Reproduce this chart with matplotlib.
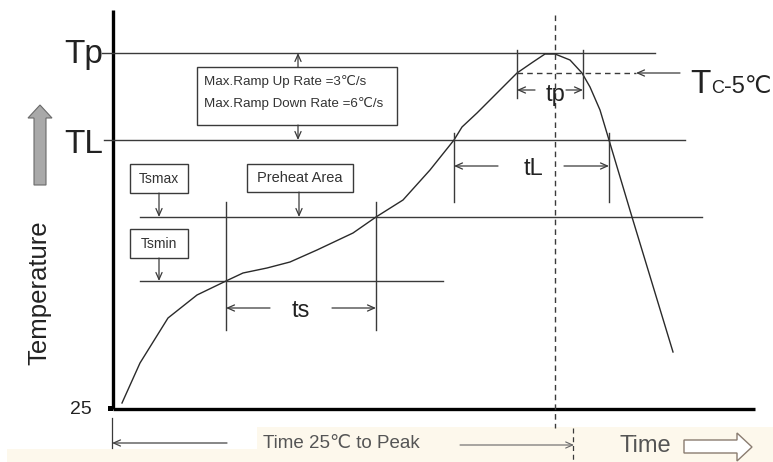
import matplotlib
matplotlib.use("Agg")
import matplotlib.pyplot as plt
from matplotlib.patches import Polygon, Rectangle

# ---------------- data (pixel-like units) ----------------
curve_time = [122, 140, 168, 197, 226, 243, 267, 290, 317, 353, 376, 403, 430, 454,
              462, 477, 497, 517, 533, 545, 555, 570, 582, 590, 600, 609, 632, 673]
curve_temp = [403, 363, 318, 295, 281, 273, 268, 262, 250, 233, 217, 200, 170, 140,
              127, 113, 93, 73, 62, 54, 54, 60, 73, 87, 110, 140, 217, 352]

level_names = ["Tp", "TL", "Tsmax", "Tsmin"]
level_values = [53, 140, 217, 281]
level_starts = [102, 104, 140, 140]
level_ends = [655, 685, 702, 443]

tc5_value = 73          # Tc - 5 level
peak_time = 555         # time of peak
ts_bounds = [226, 376]  # ts interval
tl_bounds = [454, 609]  # tL interval
tp_bounds = [517, 583]  # tp interval

ramp_text = ["Max.Ramp Up Rate =3\u2103/s", "Max.Ramp Down Rate =6\u2103/s"]

# ---------------- figure ----------------
W, H = 773, 462
fig = plt.figure(figsize=(W / 100, H / 100), dpi=100)
ax = fig.add_axes([0, 0, 1, 1])
ax.set_xlim(0, W)
ax.set_ylim(H, 0)
ax.axis("off")

FAM = ["Liberation Sans Narrow", "Liberation Sans", "DejaVu Sans"]
FAM2 = ["Liberation Sans", "DejaVu Sans"]
LC = "#3a3a3a"
LW = 1.0

# bottom cream band
ax.add_patch(Rectangle((7, 449), W - 7, H - 449, facecolor="#fdf8ec", edgecolor="none", zorder=0))
ax.add_patch(Rectangle((257, 427), W - 257, 449 - 427, facecolor="#fdf8ec", edgecolor="none", zorder=0))

# axes
ax.plot([113, 113], [10, 409], color="black", lw=2.4, solid_capstyle="butt")
ax.plot([113, 755], [409, 409], color="black", lw=2.4, solid_capstyle="butt")
ax.add_patch(Rectangle((108, 406), 5, 5, facecolor="black", edgecolor="none"))

# level lines
for v, s, e in zip(level_values, level_starts, level_ends):
    ax.plot([s, e], [v, v], color=LC, lw=LW)

# curve
ax.plot(curve_time, curve_temp, color="#2a2a2a", lw=1.0)

# dashed peak line and Tc-5 line
ax.plot([peak_time, peak_time], [15, 428], color=LC, lw=1.0, ls=(0, (4, 3)))
ax.plot([573, 573], [428, 462], color=LC, lw=0.9, ls=(0, (4, 3)))
ax.plot([tp_bounds[0], 636], [tc5_value, tc5_value], color=LC, lw=1.0, ls=(0, (4, 3)))


def arrow(x0, y0, x1, y1, color=LC, lw=0.9):
    ax.annotate("", xy=(x1, y1), xytext=(x0, y0),
                arrowprops=dict(arrowstyle="->,head_length=0.5,head_width=0.22",
                                color=color, lw=lw, shrinkA=0, shrinkB=0))


arrow(680, tc5_value, 636, tc5_value)

# tp markers
for x in tp_bounds:
    ax.plot([x, x], [50, 98], color=LC, lw=LW)
arrow(535, 90, tp_bounds[0], 90)
arrow(566, 90, tp_bounds[1], 90)
ax.text(556, 101, "tp", fontsize=17, family=FAM, ha="center", va="baseline", color="#222")

# tL markers
for x in tl_bounds:
    ax.plot([x, x], [133, 202], color=LC, lw=LW)
arrow(498, 166, tl_bounds[0], 166)
arrow(564, 166, tl_bounds[1], 166)
ax.text(533, 175, "tL", fontsize=17, family=FAM, ha="center", va="baseline", color="#222")

# ts markers
for x in ts_bounds:
    ax.plot([x, x], [202, 330], color=LC, lw=LW)
arrow(270, 308, ts_bounds[0], 308)
arrow(332, 308, ts_bounds[1], 308)
ax.text(301, 317, "ts", fontsize=17, family=FAM, ha="center", va="baseline", color="#222")

# ramp box
ax.add_patch(Rectangle((197, 67), 200, 58, facecolor="white", edgecolor=LC, lw=1.0))
ax.text(204, 82, ramp_text[0], fontsize=9.6, family=FAM, va="center", color="#333")
ax.text(204, 104, ramp_text[1], fontsize=9.6, family=FAM, va="center", color="#333")
arrow(298, 67, 298, level_values[0])
arrow(298, 125, 298, level_values[1])

# small boxes
ax.add_patch(Rectangle((130, 164), 58, 29, facecolor="white", edgecolor=LC, lw=1.0))
ax.text(159, 179, "Tsmax", fontsize=10, family=FAM, ha="center", va="center", color="#333")
arrow(159, 193, 159, level_values[2])
ax.add_patch(Rectangle((247, 164), 106, 28, facecolor="white", edgecolor=LC, lw=1.0))
ax.text(300, 178, "Preheat Area", fontsize=10.5, family=FAM, ha="center", va="center", color="#333")
arrow(299, 192, 299, level_values[2])
ax.add_patch(Rectangle((130, 229), 58, 29, facecolor="white", edgecolor=LC, lw=1.0))
ax.text(159, 244, "Tsmin", fontsize=10, family=FAM, ha="center", va="center", color="#333")
arrow(159, 258, 159, level_values[3])

# level labels
ax.text(64, 63, "Tp", fontsize=24, family=FAM, ha="left", va="baseline", color="#222")
ax.text(64, 153, "TL", fontsize=24, family=FAM, ha="left", va="baseline", color="#222")
ax.text(92, 410, "25", fontsize=14, family=FAM, ha="right", va="center", color="#222")

# Tc -5 label
ax.text(690, 93, "T", fontsize=24, family=FAM, ha="left", va="baseline", color="#222")
ax.text(711, 93, "C", fontsize=13, family=FAM, ha="left", va="baseline", color="#222")
ax.text(724, 93, "-5\u2103", fontsize=17, family=FAM, ha="left", va="baseline", color="#222")

# temperature axis label + gray arrow
ax.text(39, 293, "Temperature", fontsize=18.5, family=FAM2, rotation=90, ha="center", va="center", color="#222")
ax.add_patch(Polygon([(34, 185), (34, 118), (28, 118), (40, 105), (52, 118), (46, 118), (46, 185)],
                     closed=True, facecolor="#a9a9a9", edgecolor="#6a6a6a", lw=0.8))

# bottom time annotations
ax.plot([112, 112], [418, 448], color=LC, lw=0.9)
arrow(227, 443, 112, 443, color="#444")
ax.text(263, 443, "Time 25\u2103 to Peak", fontsize=13.5, family=FAM, ha="left", va="center", color="#555")
arrow(460, 445, 574, 445, color="#666", lw=0.8)
ax.text(620, 446, "Time", fontsize=17, family=FAM, ha="left", va="center", color="#555")
ax.add_patch(Polygon([(684, 440), (737, 440), (737, 433), (752, 447), (737, 461), (737, 453), (684, 453)],
                     closed=True, facecolor="white", edgecolor="#8a7c70", lw=1.0))

fig.savefig("out.png", dpi=100)
